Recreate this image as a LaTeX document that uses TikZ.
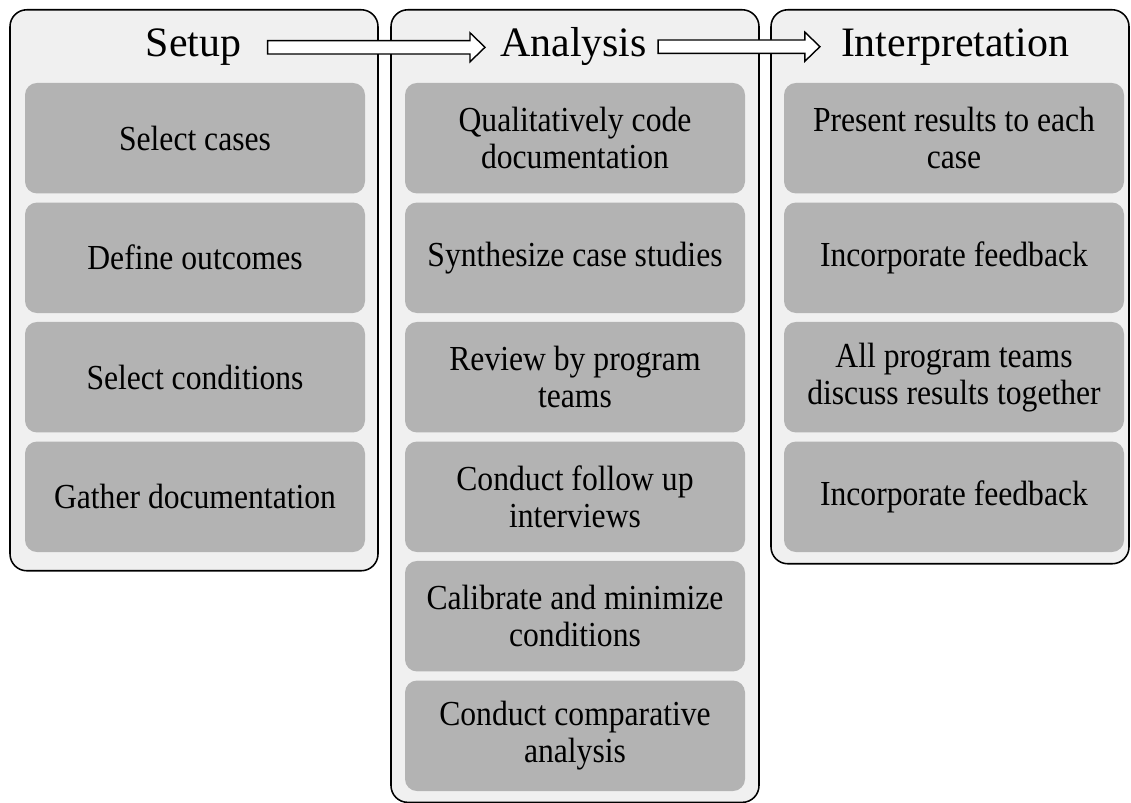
\documentclass[tikz,border=0pt]{standalone}
\usepackage{fontspec}
\setmainfont{Liberation Serif}
\newfontfamily\taskfont[FakeStretch=0.9]{Liberation Serif}
\usetikzlibrary{calc}
\definecolor{panelFill}{RGB}{240,240,240}
\definecolor{taskFill}{RGB}{179,179,179}

% hollow block arrow from tail point #1 to tip point #2 (same height)
\newcommand{\hollowarrow}[2]{%
  \draw[blockarrow] let \p1=(#1), \p2=(#2) in
    (\x1,\y1-0.1675cm) -- (\x2-0.375cm,\y1-0.1675cm) -- (\x2-0.375cm,\y1-0.3625cm)
    -- (\x2,\y1) -- (\x2-0.375cm,\y1+0.3625cm) -- (\x2-0.375cm,\y1+0.1675cm)
    -- (\x1,\y1+0.1675cm) -- cycle;}

\begin{document}
\begin{tikzpicture}[
  panel/.style={draw=black, line width=1.1pt, fill=panelFill, rounded corners=0.42cm, minimum width=9.2cm, anchor=north, inner sep=0pt},
  task/.style={fill=taskFill, rounded corners=0.3cm, minimum width=8.5cm, minimum height=2.7625cm, align=center, inner sep=0pt, font=\taskfont\fontsize{25}{26.3}\selectfont},
  stagetitle/.style={anchor=base, inner sep=0pt, font=\fontsize{29.8}{32}\selectfont},
  blockarrow/.style={draw=black, line width=1pt, fill=white, line join=miter}
]
\useasboundingbox (0,0) rectangle (28.275,-20.075);

% stage panels
\node[panel, minimum height=14.025cm] (setupP) at (4.85,-0.225) {};
\node[panel, minimum height=19.815cm] (anaP) at (14.375,-0.225) {};
\node[panel, minimum width=8.95cm, minimum height=13.85cm] (intP) at (23.75,-0.225) {};

% stage titles
\node[stagetitle] (setupT) at (4.84,-1.4175) {Setup};
\node[stagetitle] (anaT) at (14.34,-1.4175) {Analysis};
\node[stagetitle] (intT) at (23.875,-1.4175) {Interpretation};

% Column 1: setup
\node[task] (sel)    at (4.875,-3.456)  {Select cases};
\node[task] (def)    at (4.875,-6.444)  {Define outcomes};
\node[task] (cond)   at (4.875,-9.431)  {Select conditions};
\node[task] (gather) at (4.875,-12.419) {Gather documentation};

% Column 2: analysis
\node[task] (code)   at (14.375,-3.456)  {Qualitatively code\\documentation};
\node[task] (synth)  at (14.375,-6.444)  {Synthesize case studies};
\node[task] (review) at (14.375,-9.431)  {Review by program\\teams};
\node[task] (follow) at (14.375,-12.419) {Conduct follow up\\interviews};
\node[task] (calib)  at (14.375,-15.406) {Calibrate and minimize\\conditions};
\node[task] (comp)   at (14.375,-18.394) {Conduct comparative\\analysis};

% Column 3: interpretation
\node[task] (present) at (23.85,-3.456)  {Present results to each\\case};
\node[task] (feed1)   at (23.85,-6.444)  {Incorporate feedback};
\node[task] (discuss) at (23.85,-9.431)  {All program teams\\discuss results together};
\node[task] (feed2)   at (23.85,-12.419) {Incorporate feedback};

% stage arrows, drawn over the panel borders
\hollowarrow{[xshift=0.65cm]setupT.east}{[xshift=-0.375cm]anaT.west}
\hollowarrow{[xshift=0.275cm]anaT.east}{[xshift=-0.52cm]intT.west}

\end{tikzpicture}
\end{document}
